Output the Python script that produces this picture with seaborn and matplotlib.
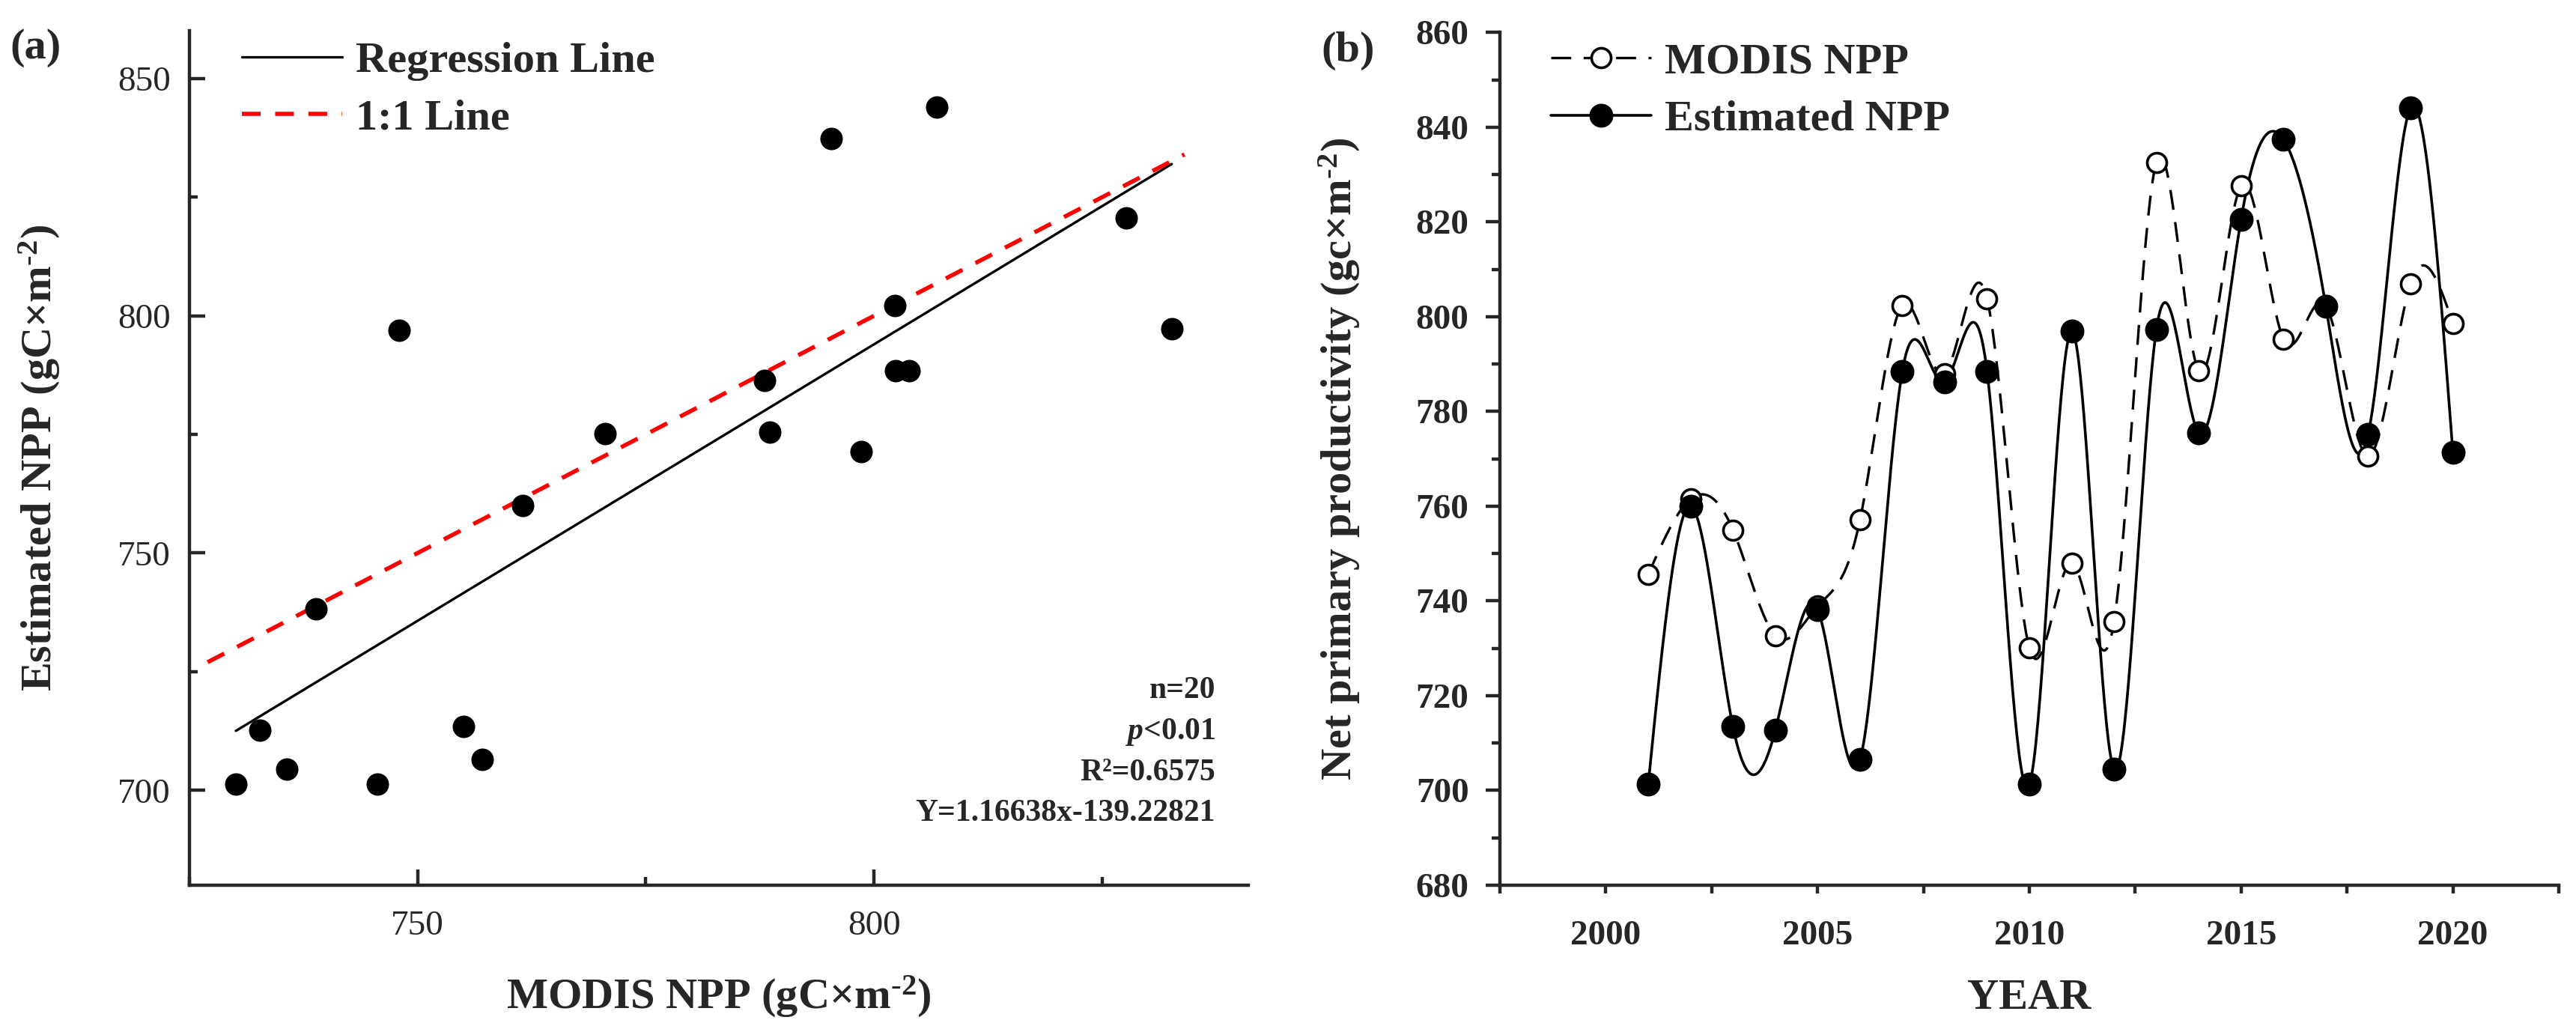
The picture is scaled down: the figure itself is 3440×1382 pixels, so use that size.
import matplotlib
matplotlib.use('Agg')
import matplotlib.pyplot as plt
from matplotlib.lines import Line2D
from matplotlib.ticker import MultipleLocator
import numpy as np
import pandas as pd
import seaborn as sns

# values
years = list(range(2001, 2021))
modis_npp = [745.6, 761.5, 755.0, 732.7, 738.9, 757.1, 802.4, 788.0, 803.8, 730.1,
             748.0, 735.7, 832.6, 788.6, 827.6, 795.3, 802.3, 770.5, 806.9, 798.6]
estimated_npp = [701.3, 760.0, 713.5, 712.7, 738.2, 706.5, 788.5, 786.3, 788.5, 701.3,
                 796.9, 704.5, 797.3, 775.5, 820.6, 837.4, 802.2, 775.2, 844.0, 771.4]
one_to_one = [727, 834]
stats_text = ['n=20', '$p$<0.01', 'R²=0.6575', 'Y=1.16638x-139.22821']

df = pd.DataFrame({'year': years, 'modis': modis_npp, 'est': estimated_npp})


def spline(x, y, xs):
    # natural cubic spline, like Origin's "Spline" connection
    x = np.asarray(x, float)
    y = np.asarray(y, float)
    n = len(x)
    h = np.diff(x)
    A = np.zeros((n, n))
    r = np.zeros(n)
    A[0, 0] = A[-1, -1] = 1
    for i in range(1, n - 1):
        A[i, i - 1] = h[i - 1]
        A[i, i] = 2 * (h[i - 1] + h[i])
        A[i, i + 1] = h[i]
        r[i] = 3 * ((y[i + 1] - y[i]) / h[i] - (y[i] - y[i - 1]) / h[i - 1])
    c = np.linalg.solve(A, r)
    b = (y[1:] - y[:-1]) / h - h * (2 * c[:-1] + c[1:]) / 3
    d = (c[1:] - c[:-1]) / (3 * h)
    idx = np.clip(np.searchsorted(x, xs) - 1, 0, n - 2)
    dx = xs - x[idx]
    return y[idx] + b[idx] * dx + c[idx] * dx ** 2 + d[idx] * dx ** 3


sns.set_style('ticks')
plt.rcParams['font.family'] = ['Liberation Serif', 'DejaVu Serif']
plt.rcParams['mathtext.fontset'] = 'custom'
plt.rcParams['mathtext.rm'] = 'Liberation Serif:bold'
plt.rcParams['mathtext.it'] = 'Liberation Serif:italic:bold'
plt.rcParams['mathtext.bf'] = 'Liberation Serif:bold'
plt.rcParams['axes.linewidth'] = 1.6

fig = plt.figure(figsize=(17.2, 6.91), dpi=200)
ax_a = fig.add_axes([0.0735, 0.1447, 0.4111, 0.8253])
ax_b = fig.add_axes([0.5823, 0.1447, 0.4110, 0.8240])

# ---------- (a) scatter ----------
sns.regplot(x='modis', y='est', data=df, scatter=False, ci=None, truncate=True,
            line_kws=dict(color='black', lw=1.2), ax=ax_a)
ax_a.plot(one_to_one, one_to_one, color='red', lw=2.0, ls=(0, (4.5, 3.5)))
sns.scatterplot(x='modis', y='est', data=df, color='black', s=117, linewidth=0,
                ax=ax_a, zorder=3)

ax_a.set_xlim(725, 841)
ax_a.set_ylim(680, 860)
ax_a.xaxis.set_major_locator(MultipleLocator(50))
ax_a.xaxis.set_minor_locator(MultipleLocator(25))
ax_a.yaxis.set_major_locator(MultipleLocator(50))
ax_a.yaxis.set_minor_locator(MultipleLocator(25))
ax_a.tick_params(which='major', direction='in', length=7.5, width=1.6, labelsize=17)
ax_a.tick_params(which='minor', direction='in', length=4, width=1.6)
ax_a.tick_params(axis='x', pad=12)
ax_a.tick_params(axis='y', pad=9)
ax_a.set_xlabel(r'MODIS NPP (gC×m$^{\text{-}2}$)', fontsize=21, fontweight='bold')
ax_a.set_ylabel(r'Estimated NPP (gC×m$^{\text{-}2}$)', fontsize=21, fontweight='bold')
ax_a.xaxis.set_label_coords(0.5, -0.104)
ax_a.yaxis.set_label_coords(-0.120, 0.5)
sns.despine(ax=ax_a)

for i, t in enumerate(stats_text):
    ax_a.text(0.969, 0.219 - i * 0.048, t, transform=ax_a.transAxes, ha='right',
              va='baseline', fontsize=15, fontweight='bold')

leg_a = [Line2D([], [], color='black', lw=1.2),
         Line2D([], [], color='red', lw=2.0, ls=(0, (4.5, 3.5)))]
ax_a.legend(leg_a, ['Regression Line', '1:1 Line'], loc='upper left',
            bbox_to_anchor=(0.0495, 0.988), frameon=False, borderaxespad=0,
            borderpad=0, handlelength=2.3, handletextpad=0.3, labelspacing=0.4,
            prop=dict(size=21, weight='bold'))

# ---------- (b) time series ----------
xs = np.linspace(years[0], years[-1], 800)
sns.lineplot(x=xs, y=spline(years, modis_npp, xs), color='black', lw=1.2,
             linestyle=(0, (8, 5)), ax=ax_b)
sns.lineplot(x=xs, y=spline(years, estimated_npp, xs), color='black', lw=1.3, ax=ax_b)
sns.scatterplot(x='year', y='modis', data=df, color='white', edgecolor='black',
                linewidth=1.3, s=88, ax=ax_b, zorder=4)
sns.scatterplot(x='year', y='est', data=df, color='black', linewidth=0, s=132,
                ax=ax_b, zorder=5)

ax_b.set_xlim(1997.5, 2022.5)
ax_b.set_ylim(680, 860)
ax_b.xaxis.set_major_locator(MultipleLocator(5))
ax_b.xaxis.set_minor_locator(MultipleLocator(2.5))
ax_b.yaxis.set_major_locator(MultipleLocator(20))
ax_b.yaxis.set_minor_locator(MultipleLocator(10))
ax_b.tick_params(which='both', direction='out', width=1.6, labelsize=17)
ax_b.tick_params(axis='y', which='major', length=7, pad=8)
ax_b.tick_params(axis='y', which='minor', length=4)
ax_b.tick_params(axis='x', which='both', length=4, pad=13)
for lbl in ax_b.get_xticklabels() + ax_b.get_yticklabels():
    lbl.set_fontweight('bold')
ax_b.set_xlabel('YEAR', fontsize=21, fontweight='bold')
ax_b.set_ylabel(r'Net primary productivity (gc×m$^{\text{-}2}$)', fontsize=21,
                fontweight='bold')
ax_b.xaxis.set_label_coords(0.5, -0.11)
ax_b.yaxis.set_label_coords(-0.130, 0.5)
sns.despine(ax=ax_b)

leg_b = [Line2D([], [], color='black', lw=1.2, ls=(0, (8, 5)), marker='o',
                markersize=9.4, markerfacecolor='white', markeredgecolor='black',
                markeredgewidth=1.3),
         Line2D([], [], color='black', lw=1.3, marker='o', markersize=11.5,
                markerfacecolor='black', markeredgewidth=0)]
ax_b.legend(leg_b, ['MODIS NPP', 'Estimated NPP'], loc='upper left',
            bbox_to_anchor=(0.048, 0.988), frameon=False, borderaxespad=0,
            borderpad=0, handlelength=2.3, handletextpad=0.3, labelspacing=0.4,
            prop=dict(size=21, weight='bold'))

fig.text(0.0038, 0.9725, '(a)', fontsize=21, fontweight='bold', va='top', ha='left')
fig.text(0.5128, 0.9696, '(b)', fontsize=21, fontweight='bold', va='top', ha='left')

fig.savefig('out.png', dpi=200)
